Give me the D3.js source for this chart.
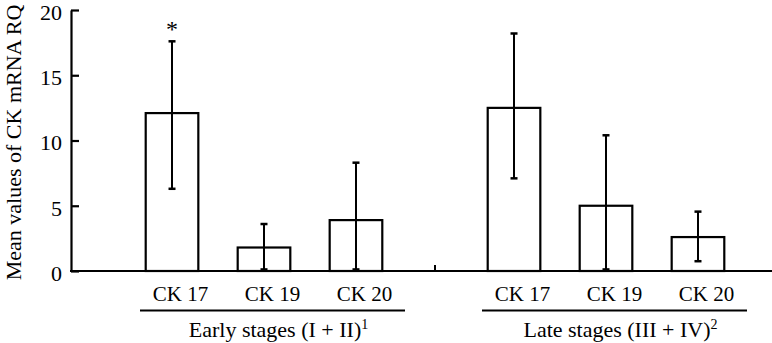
<!DOCTYPE html>
<html><head><meta charset="utf-8">
<script src="https://cdn.jsdelivr.net/npm/d3@7"></script>
<style>body{margin:0;background:#fff}svg{display:block}svg text{font-family:"Liberation Serif","Times New Roman",serif !important;fill:#000}</style>
</head><body><svg id="c" width="772" height="343"></svg>
<script>
const groups = ["Early stages (I + II)", "Late stages (III + IV)"];
const groupSup = ["1", "2"];
const markers = ["CK 17", "CK 19", "CK 20"];
const earlyMeans = [12.1, 1.8, 3.9];
const earlyUpper = [17.6, 3.6, 8.3];
const earlyLower = [6.3, 0.12, 0.12];
const lateMeans = [12.5, 5.0, 2.6];
const lateUpper = [18.2, 10.4, 4.55];
const lateLower = [7.1, 0.12, 0.75];
const yTicks = [0, 5, 10, 15, 20];
const significant = [["Early stages (I + II)", "CK 17"]];

const rows = [];
groups.forEach((g, gi) => {
  const m = gi === 0 ? earlyMeans : lateMeans;
  const u = gi === 0 ? earlyUpper : lateUpper;
  const l = gi === 0 ? earlyLower : lateLower;
  markers.forEach((k, i) => rows.push({g, k, v: m[i], hi: u[i], lo: l[i]}));
});

const svg = d3.select("#c");
const W = 772;
const axisX = 71;
const y = d3.scaleLinear().domain([0, 20]).range([271, 10]);
const xg = d3.scaleBand().domain(groups).range([93, 777]);
const xi = d3.scaleBand().domain(markers).range([0, xg.bandwidth()]).paddingInner(0.428).paddingOuter(0.573);
const bx = d => xg(d.g) + xi(d.k);
const bc = d => bx(d) + xi.bandwidth() / 2;
const labelShift = 8.5;

// y axis
const yAxis = d3.axisLeft(y).tickValues(yTicks).tickSize(-8).tickPadding(9).tickSizeOuter(0);
const ga = svg.append("g").attr("transform", `translate(${axisX},0)`).call(yAxis);
ga.select(".domain").attr("stroke", "#000").attr("stroke-width", 2.2);
ga.selectAll(".tick line").attr("stroke", "#000").attr("stroke-width", 2.2);
ga.selectAll(".tick text").style("font-size", "22px").attr("dy", "0.43em");

// y title
svg.append("text").attr("transform", `translate(21,${y(10) + 2}) rotate(-90)`)
  .attr("text-anchor", "middle").style("font-size", "22px").text("Mean values of CK mRNA RQ");

// bars
svg.selectAll("rect.bar").data(rows).join("rect").attr("class", "bar")
  .attr("x", bx).attr("width", xi.bandwidth())
  .attr("y", d => y(d.v)).attr("height", d => y(0) - y(d.v))
  .attr("fill", "#fff").attr("stroke", "#000").attr("stroke-width", 2.2);

// error bars
const cap = 3.5;
const eb = svg.append("g").attr("stroke", "#000").attr("stroke-width", 2);
rows.forEach(d => {
  const cx = bc(d);
  eb.append("line").attr("x1", cx).attr("x2", cx).attr("y1", y(d.hi)).attr("y2", y(d.lo));
  eb.append("line").attr("x1", cx - cap).attr("x2", cx + cap).attr("y1", y(d.hi)).attr("y2", y(d.hi)).attr("stroke-width", 2.5);
  eb.append("line").attr("x1", cx - cap).attr("x2", cx + cap).attr("y1", y(d.lo)).attr("y2", y(d.lo)).attr("stroke-width", 2.5);
});

// x axis line
svg.append("line").attr("x1", axisX - 1).attr("x2", W).attr("y1", y(0)).attr("y2", y(0))
  .attr("stroke", "#000").attr("stroke-width", 2.2);
// group separator tick
svg.append("line").attr("x1", xg(groups[1])).attr("x2", xg(groups[1])).attr("y1", y(0) - 6).attr("y2", y(0))
  .attr("stroke", "#000").attr("stroke-width", 2);

// asterisk
significant.forEach(([g, k]) => {
  const d = rows.find(r => r.g === g && r.k === k);
  svg.append("text").attr("x", bc(d)).attr("y", y(d.hi) - 4).attr("text-anchor", "middle")
    .style("font-size", "24px").text("*");
});

// category labels
svg.selectAll("text.cat").data(rows).join("text").attr("class", "cat")
  .attr("x", d => bc(d) + labelShift).attr("y", 300.5).attr("text-anchor", "middle")
  .style("font-size", "21px").text(d => d.k);

// group underlines and labels
groups.forEach((g, gi) => {
  const c = xg(g) + xg.bandwidth() / 2 + labelShift;
  svg.append("line").attr("x1", c - 132.5).attr("x2", c + 132.5).attr("y1", 310.5).attr("y2", 310.5)
    .attr("stroke", "#000").attr("stroke-width", 2);
  const t = svg.append("text").attr("x", c + 6).attr("y", 337).attr("text-anchor", "middle").style("font-size", "22px");
  t.append("tspan").text(g);
  t.append("tspan").style("font-size", "14px").attr("dy", -8).text(groupSup[gi]);
});
</script></body></html>
